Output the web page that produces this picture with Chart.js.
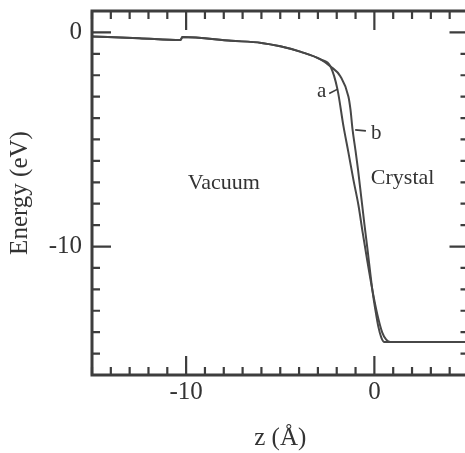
<!DOCTYPE html>
<html>
<head>
<meta charset="utf-8">
<script src="https://cdn.jsdelivr.net/npm/chart.js@4.4.0/dist/chart.umd.min.js"></script>
<style>
  html, body { margin: 0; padding: 0; background: #fff; overflow: hidden; }
  #wrap { width: 472px; height: 453px; }
</style>
</head>
<body>
<div id="wrap"><canvas id="energyChart" width="472" height="453"></canvas></div>
<script>
// shared vacuum side of both curves
const zVac = [-15, -12.5, -10.3, -10.2, -7.6, -6.0, -5.0, -3.9, -2.86, -2.33]
const eVac = [-0.19, -0.27, -0.36, -0.22, -0.39, -0.49, -0.65, -0.91, -1.26, -1.59]

// curve a
const zA = [-1.96, -1.64, -1.38, -1.11, -0.85, -0.63, -0.37, -0.11, 0.16, 0.42, 0.63, 0.85, 5]
const eA = [-2.66, -4.39, -5.6, -6.9, -8.05, -9.3, -10.7, -12.01, -13.18, -14.02, -14.35, -14.46, -14.46]

// curve b
const zB = [-1.80, -1.38, -1.27, -1.16, -1.01, -0.87, -0.69, -0.53, -0.37, -0.11, 0.05, 0.21, 0.37, 0.53, 5]
const eB = [-2.06, -2.99, -3.6, -4.53, -5.47, -6.40, -7.75, -8.95, -10.1, -12.01, -12.94, -13.74, -14.25, -14.46, -14.46]

const xTickLabels = [-10, 0]
const yTickLabels = [0, -10]
const regionLabels = [
    { text: 'Vacuum', z: -8.0, e: -7.05 },
    { text: 'Crystal', z: 1.5, e: -6.8 }
]

const toPoints = (zs, es) => zs.map((z, i) => ({ x: z, y: es[i] }))
const curveA = toPoints(zVac.concat(zA), eVac.concat(eA))
const curveB = toPoints(zVac.concat(zB), eVac.concat(eB))

const ink = '#3d3d3d'
const serif = '"Liberation Serif", "Times New Roman", serif'

// frame with inward ticks on all four sides, plus the a / b / region labels
const framePlugin = {
    id: 'frame',
    afterDatasetsDraw(chart) {
        const c = chart.ctx
        const xs = chart.scales.x
        const ys = chart.scales.y
        const a = chart.chartArea
        c.save()
        c.strokeStyle = ink
        c.lineWidth = 3
        c.strokeRect(a.left, a.top, a.right - a.left, a.bottom - a.top)

        c.lineWidth = 2.2
        c.beginPath()
        for (let z = -15; z <= 5; z++) {
            const px = xs.getPixelForValue(z)
            const len = xTickLabels.includes(z) ? 19 : 8
            c.moveTo(px, a.bottom); c.lineTo(px, a.bottom - len)
            c.moveTo(px, a.top); c.lineTo(px, a.top + len)
        }
        for (let e = -16; e <= 1; e++) {
            const py = ys.getPixelForValue(e)
            const len = yTickLabels.includes(e) ? 19 : 8
            c.moveTo(a.left, py); c.lineTo(a.left + len, py)
            c.moveTo(a.right, py); c.lineTo(a.right - len, py)
        }
        c.stroke()

        c.fillStyle = '#333'
        c.font = '22px ' + serif
        c.textAlign = 'center'
        c.textBaseline = 'middle'
        regionLabels.forEach(r => {
            c.fillText(r.text, xs.getPixelForValue(r.z), ys.getPixelForValue(r.e))
        })

        // curve labels with short leader lines
        c.font = '21px ' + serif
        c.fillText('a', xs.getPixelForValue(-2.8), ys.getPixelForValue(-2.75))
        c.fillText('b', xs.getPixelForValue(0.1), ys.getPixelForValue(-4.7))
        c.lineWidth = 1.6
        c.beginPath()
        c.moveTo(xs.getPixelForValue(-2.4), ys.getPixelForValue(-2.85))
        c.lineTo(xs.getPixelForValue(-1.95), ys.getPixelForValue(-2.65))
        c.moveTo(xs.getPixelForValue(-1.02), ys.getPixelForValue(-4.55))
        c.lineTo(xs.getPixelForValue(-0.45), ys.getPixelForValue(-4.6))
        c.stroke()
        c.restore()
    }
}

const lineStyle = {
    showLine: true,
    borderColor: '#474747',
    borderWidth: 2,
    pointRadius: 0,
    fill: false,
    cubicInterpolationMode: 'monotone'
}

const noPad = s => { s.paddingTop = 0; s.paddingBottom = 0; s.paddingLeft = 0; s.paddingRight = 0 }

const ctx = document.getElementById('energyChart').getContext('2d')

const energyChart = new Chart(ctx, {
    type: 'scatter',
    data: {
        datasets: [
            { label: 'a', data: curveA, ...lineStyle },
            { label: 'b', data: curveB, ...lineStyle }
        ]
    },
    options: {
        responsive: false,
        animation: false,
        layout: {
            padding: { top: 11, right: 3.5, left: 0, bottom: 0 }
        },
        plugins: {
            legend: { display: false },
            tooltip: { enabled: false }
        },
        scales: {
            x: {
                type: 'linear',
                min: -15,
                max: 5,
                grid: { display: false },
                border: { display: false },
                afterBuildTicks: s => { s.ticks = xTickLabels.map(v => ({ value: v })) },
                afterFit: s => { s.height = 78; noPad(s) },
                ticks: {
                    color: '#333',
                    padding: -6,
                    maxRotation: 0,
                    font: { family: serif, size: 25 }
                },
                title: {
                    display: true,
                    text: 'z (Å)',
                    color: '#333',
                    padding: { top: 0, bottom: 0 },
                    font: { family: serif, size: 25 }
                }
            },
            y: {
                type: 'linear',
                min: -16,
                max: 1,
                grid: { display: false },
                border: { display: false },
                afterBuildTicks: s => { s.ticks = yTickLabels.map(v => ({ value: v })) },
                afterFit: s => { s.width = 92; noPad(s) },
                ticks: {
                    color: '#333',
                    padding: 2,
                    font: { family: serif, size: 25 }
                },
                title: {
                    display: true,
                    text: 'Energy (eV)',
                    color: '#333',
                    padding: { top: 5, bottom: 0 },
                    font: { family: serif, size: 25 }
                }
            }
        }
    },
    plugins: [framePlugin]
})
</script>
</body>
</html>
